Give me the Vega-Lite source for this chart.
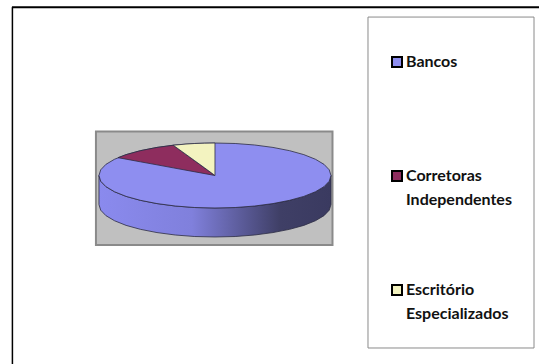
{
  "$schema": "https://vega.github.io/schema/vega-lite/v6.json",
  "width": 539,
  "height": 364,
  "padding": 0,
  "autosize": {"type": "none"},
  "background": "white",
  "view": {"stroke": null},
  "datasets": {
    "frame": [
      {"x": -1.75, "x2": 2.8, "y": 1.45, "y2": 1.45, "w": 2},
      {"x": -1.746, "x2": -1.746, "y": 1.45, "y2": -1.63, "w": 1.5}
    ],
    "panels": [
      {"panel": "plot", "x": -1.026, "x2": 1.013, "y": 0.38, "y2": -0.6},
      {"panel": "legend", "x": 1.319, "x2": 2.75, "y": 1.366, "y2": -1.487}
    ],
    "rim": [
      {"x": -1, "top": 0, "bottom": -0.25},
      {"x": -0.985, "top": -0.049, "bottom": -0.299},
      {"x": -0.94, "top": -0.096, "bottom": -0.346},
      {"x": -0.866, "top": -0.14, "bottom": -0.39},
      {"x": -0.766, "top": -0.18, "bottom": -0.43},
      {"x": -0.643, "top": -0.214, "bottom": -0.464},
      {"x": -0.5, "top": -0.242, "bottom": -0.492},
      {"x": -0.342, "top": -0.263, "bottom": -0.513},
      {"x": -0.174, "top": -0.276, "bottom": -0.526},
      {"x": 0, "top": -0.28, "bottom": -0.53},
      {"x": 0.174, "top": -0.276, "bottom": -0.526},
      {"x": 0.342, "top": -0.263, "bottom": -0.513},
      {"x": 0.5, "top": -0.242, "bottom": -0.492},
      {"x": 0.643, "top": -0.214, "bottom": -0.464},
      {"x": 0.766, "top": -0.18, "bottom": -0.43},
      {"x": 0.866, "top": -0.14, "bottom": -0.39},
      {"x": 0.94, "top": -0.096, "bottom": -0.346},
      {"x": 0.985, "top": -0.049, "bottom": -0.299},
      {"x": 1, "top": 0, "bottom": -0.25}
    ],
    "slices": [
      {"slice": "Bancos", "x": -1, "y": 0, "y2": 0},
      {"slice": "Bancos", "x": -0.985, "y": 0.049, "y2": -0.049},
      {"slice": "Bancos", "x": -0.94, "y": 0.096, "y2": -0.096},
      {"slice": "Bancos", "x": -0.866, "y": 0.14, "y2": -0.14},
      {"slice": "Bancos", "x": -0.766, "y": 0.18, "y2": -0.18},
      {"slice": "Bancos", "x": -0.643, "y": 0.214, "y2": -0.214},
      {"slice": "Bancos", "x": -0.5, "y": 0.242, "y2": -0.242},
      {"slice": "Bancos", "x": -0.342, "y": 0.263, "y2": -0.263},
      {"slice": "Bancos", "x": -0.174, "y": 0.276, "y2": -0.276},
      {"slice": "Bancos", "x": 0, "y": 0.28, "y2": -0.28},
      {"slice": "Bancos", "x": 0.174, "y": 0.276, "y2": -0.276},
      {"slice": "Bancos", "x": 0.342, "y": 0.263, "y2": -0.263},
      {"slice": "Bancos", "x": 0.5, "y": 0.242, "y2": -0.242},
      {"slice": "Bancos", "x": 0.643, "y": 0.214, "y2": -0.214},
      {"slice": "Bancos", "x": 0.766, "y": 0.18, "y2": -0.18},
      {"slice": "Bancos", "x": 0.866, "y": 0.14, "y2": -0.14},
      {"slice": "Bancos", "x": 0.94, "y": 0.096, "y2": -0.096},
      {"slice": "Bancos", "x": 0.985, "y": 0.049, "y2": -0.049},
      {"slice": "Bancos", "x": 1, "y": 0, "y2": 0},
      {"slice": "Corretoras Independentes", "x": -0.836, "y": 0.154, "y2": 0.154},
      {"slice": "Corretoras Independentes", "x": -0.766, "y": 0.18, "y2": 0.141},
      {"slice": "Corretoras Independentes", "x": -0.643, "y": 0.214, "y2": 0.118},
      {"slice": "Corretoras Independentes", "x": -0.5, "y": 0.242, "y2": 0.092},
      {"slice": "Corretoras Independentes", "x": -0.36, "y": 0.261, "y2": 0.066},
      {"slice": "Corretoras Independentes", "x": -0.18, "y": 0.131, "y2": 0.033},
      {"slice": "Corretoras Independentes", "x": 0, "y": 0, "y2": 0},
      {"slice": "Escritório Especializados", "x": -0.36, "y": 0.261, "y2": 0.261},
      {"slice": "Escritório Especializados", "x": -0.25, "y": 0.271, "y2": 0.182},
      {"slice": "Escritório Especializados", "x": -0.174, "y": 0.276, "y2": 0.127},
      {"slice": "Escritório Especializados", "x": -0.09, "y": 0.279, "y2": 0.066},
      {"slice": "Escritório Especializados", "x": 0, "y": 0.28, "y2": 0}
    ]
  },
  "resolve": {"scale": {"x": "shared", "y": "shared"}},
  "layer": [
    {
      "data": {"name": "panels"},
      "mark": {"type": "rect"},
      "encoding": {
        "x": {"field": "x", "type": "quantitative", "scale": {"domain": [-1.853, 2.793], "nice": false, "zero": false}, "axis": null},
        "x2": {"field": "x2"},
        "y": {"field": "y", "type": "quantitative", "scale": {"domain": [-1.625, 1.513], "nice": false, "zero": false}, "axis": null},
        "y2": {"field": "y2"},
        "fill": {"field": "panel", "type": "nominal", "scale": {"domain": ["plot", "legend"], "range": ["#c0c0c0", "#ffffff"]}, "legend": null},
        "stroke": {"field": "panel", "type": "nominal", "scale": {"domain": ["plot", "legend"], "range": ["#8a8a8a", "#8a8a8a"]}, "legend": null},
        "strokeWidth": {"field": "panel", "type": "nominal", "scale": {"domain": ["plot", "legend"], "range": [2, 1]}, "legend": null}
      }
    },
    {
      "data": {"name": "frame"},
      "mark": {"type": "rule", "color": "#000000", "clip": false},
      "encoding": {
        "x": {"field": "x", "type": "quantitative", "axis": null},
        "x2": {"field": "x2"},
        "y": {"field": "y", "type": "quantitative", "axis": null},
        "y2": {"field": "y2"},
        "strokeWidth": {"field": "w", "type": "quantitative", "scale": null}
      }
    },
    {
      "data": {"name": "rim"},
      "mark": {
        "type": "area",
        "stroke": "#2c2c44",
        "strokeWidth": 0.8,
        "orient": "vertical",
        "fill": {
          "x1": 0, "y1": 0, "x2": 1, "y2": 0,
          "gradient": "linear",
          "stops": [
            {"offset": 0, "color": "#8a8aee"},
            {"offset": 0.4, "color": "#8080dc"},
            {"offset": 0.78, "color": "#3f3f66"},
            {"offset": 1, "color": "#3a3a60"}
          ]
        }
      },
      "encoding": {
        "x": {"field": "x", "type": "quantitative", "axis": null},
        "y": {"field": "top", "type": "quantitative", "axis": null},
        "y2": {"field": "bottom"}
      }
    },
    {
      "data": {"name": "slices"},
      "mark": {"type": "area", "stroke": "#2c2c44", "strokeWidth": 0.8, "orient": "vertical"},
      "encoding": {
        "x": {"field": "x", "type": "quantitative", "axis": null},
        "y": {"field": "y", "type": "quantitative", "axis": null, "stack": null},
        "y2": {"field": "y2"},
        "color": {
          "field": "slice",
          "type": "nominal",
          "sort": null,
          "scale": {
            "domain": ["Bancos", "Corretoras Independentes", "Escritório Especializados"],
            "range": ["#8e8ef0", "#8e2d5e", "#f3f3c0"]
          },
          "legend": {
            "orient": "none",
            "legendX": 389,
            "legendY": 54,
            "title": null,
            "symbolType": "square",
            "symbolSize": 100,
            "symbolStrokeColor": "#000000",
            "symbolStrokeWidth": 2,
            "symbolOpacity": 1,
            "labelFont": "Lato",
            "labelFontWeight": "bold",
            "labelFontSize": 16,
            "labelColor": "#111111",
            "labelOffset": 1,
            "rowPadding": 73,
            "labelExpr": "split(indexof(datum.label, ' ') < 0 ? datum.label + ' ' : datum.label, ' ')",
            "labelLimit": 200,
            "encoding": {"labels": {"lineHeight": {"value": 24}}}
          }
        }
      }
    }
  ]
}
